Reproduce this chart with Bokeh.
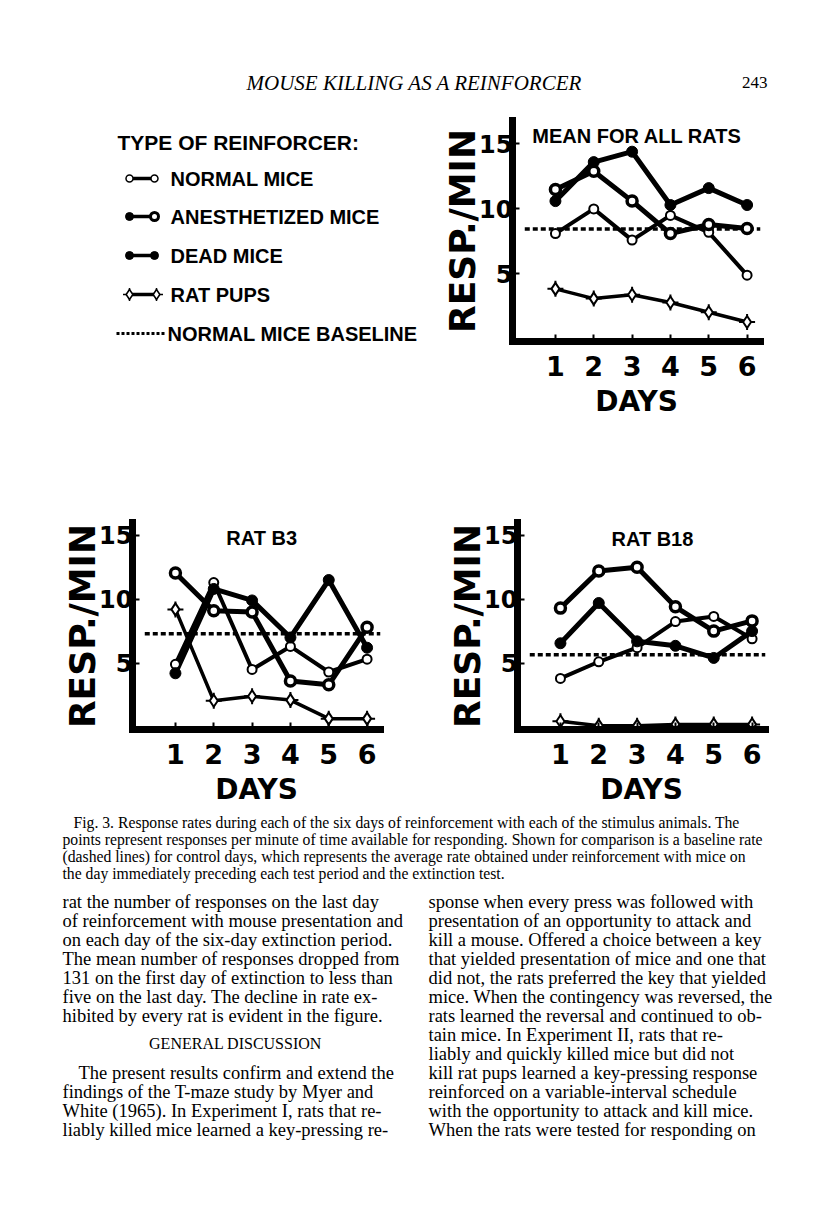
from bokeh.plotting import figure
from bokeh.models import Range1d, FixedTicker, Label
from bokeh.layouts import column, row
from bokeh.embed import file_html
from bokeh.resources import INLINE
from bokeh.core.properties import value

# ---------------- data ----------------
DAYS = [1, 2, 3, 4, 5, 6]
Y_TICKS = [5, 10, 15]

MEAN_NORMAL = [8.1, 10.0, 7.6, 9.5, 8.2, 4.9]
MEAN_ANESTH = [11.5, 12.9, 10.6, 8.1, 8.8, 8.5]
MEAN_DEAD = [10.6, 13.6, 14.4, 10.3, 11.6, 10.3]
MEAN_PUPS = [3.85, 3.1, 3.4, 2.8, 2.05, 1.3]
MEAN_BASELINE = 8.45

B3_NORMAL = [4.9, 11.3, 4.5, 6.3, 4.3, 5.3]
B3_ANESTH = [12.05, 9.1, 9.0, 3.6, 3.3, 7.8]
B3_DEAD = [4.2, 10.8, 9.9, 7.0, 11.5, 6.2]
B3_PUPS = [9.2, 2.05, 2.4, 2.1, 0.65, 0.65]
B3_BASELINE = 7.3

B18_NORMAL = [3.8, 5.1, 6.2, 8.25, 8.65, 6.9]
B18_ANESTH = [9.3, 12.2, 12.5, 9.4, 7.5, 8.3]
B18_DEAD = [6.55, 9.7, 6.7, 6.35, 5.4, 7.5]
B18_PUPS = [0.45, 0.1, 0.1, 0.2, 0.2, 0.2]
B18_BASELINE = 5.65

LEGEND_TITLE = "TYPE OF REINFORCER:"
LEGEND_ITEMS = ["NORMAL MICE", "ANESTHETIZED MICE", "DEAD MICE", "RAT PUPS",
                "NORMAL MICE BASELINE"]

RUNNING_HEAD = "MOUSE KILLING AS A REINFORCER"
PAGE_NO = "243"

CAPTION = [
    "Fig. 3. Response rates during each of the six days of reinforcement with each of the stimulus animals. The",
    "points represent responses per minute of time available for responding. Shown for comparison is a baseline rate",
    "(dashed lines) for control days, which represents the average rate obtained under reinforcement with mice on",
    "the day immediately preceding each test period and the extinction test.",
]
LEFT_COL_A = [
    "rat the number of responses on the last day",
    "of reinforcement with mouse presentation and",
    "on each day of the six-day extinction period.",
    "The mean number of responses dropped from",
    "131 on the first day of extinction to less than",
    "five on the last day. The decline in rate ex-",
    "hibited by every rat is evident in the figure.",
]
HEADING = "GENERAL DISCUSSION"
LEFT_COL_B = [
    "The present results confirm and extend the",
    "findings of the T-maze study by Myer and",
    "White (1965). In Experiment I, rats that re-",
    "liably killed mice learned a key-pressing re-",
]
RIGHT_COL = [
    "sponse when every press was followed with",
    "presentation of an opportunity to attack and",
    "kill a mouse. Offered a choice between a key",
    "that yielded presentation of mice and one that",
    "did not, the rats preferred the key that yielded",
    "mice. When the contingency was reversed, the",
    "rats learned the reversal and continued to ob-",
    "tain mice. In Experiment II, rats that re-",
    "liably and quickly killed mice but did not",
    "kill rat pups learned a key-pressing response",
    "reinforced on a variable-interval schedule",
    "with the opportunity to attack and kill mice.",
    "When the rats were tested for responding on",
]

# ---------------- styles ----------------
SANS = "DejaVu Sans"
LETTER = "Liberation Sans"
SERIF = "Liberation Serif"
X_RANGE = (-0.12, 6.35)
Y_BOTTOM = -0.2


def blank(width, height, x0, x1, y0, y1):
    p = figure(width=width, height=height, x_range=Range1d(x0, x1), y_range=Range1d(y1, y0),
               x_axis_type=None, y_axis_type=None, output_backend="svg",
               toolbar_location=None, min_border=0, title=None)
    p.frame_align = False
    p.grid.visible = False
    p.outline_line_color = None
    return p


def draw_markers(p, xs, normal, anesth, dead, pups):
    p.scatter(xs, normal, marker="circle", size=9, fill_color="white",
              line_color="black", line_width=2)
    p.scatter(xs, anesth, marker="circle", size=10, fill_color="white",
              line_color="black", line_width=3.5)
    p.scatter(xs, dead, marker="circle", size=11, fill_color="black",
              line_color="black")
    p.scatter(xs, pups, marker="cross", size=16, line_color="black", line_width=2)
    p.scatter(xs, pups, marker="diamond", size=12, fill_color="white",
              line_color="black", line_width=2)


def chart(title, title_x, title_y, y_top, normal, anesth, dead, pups, baseline,
          width, height, bl, br, bt, bb):
    p = figure(width=width, height=height, x_range=Range1d(*X_RANGE),
               y_range=Range1d(Y_BOTTOM, y_top),
               output_backend="svg", toolbar_location=None, title=None,
               min_border_left=bl, min_border_right=br, min_border_top=bt, min_border_bottom=bb)
    p.frame_align = False
    p.grid.visible = False
    p.outline_line_color = None

    p.segment(x0=[0.2], y0=[baseline], x1=[6.35], y1=[baseline], line_color="black",
              line_width=3.5, line_dash="5 3")
    p.line(DAYS, normal, line_color="black", line_width=4)
    p.line(DAYS, anesth, line_color="black", line_width=5)
    p.line(DAYS, dead, line_color="black", line_width=5)
    p.line(DAYS, pups, line_color="black", line_width=3.5)
    draw_markers(p, DAYS, normal, anesth, dead, pups)

    p.add_layout(Label(x=title_x, y=title_y, text=title, text_font=LETTER,
                       text_font_style="bold", text_font_size="20px", text_color="black",
                       text_align="center", text_baseline="middle"))

    p.xaxis.ticker = FixedTicker(ticks=DAYS)
    p.yaxis.ticker = FixedTicker(ticks=Y_TICKS)
    for ax in p.axis:
        ax.axis_line_width = 7
        ax.axis_line_cap = "square"
        ax.axis_line_color = "black"
        ax.major_tick_in = 7
        ax.major_tick_out = 0
        ax.major_tick_line_width = 2
        ax.minor_tick_line_color = None
        ax.major_label_text_font = SANS
        ax.major_label_text_font_style = "bold"
        ax.major_label_text_color = "black"
        ax.axis_label_text_font = SANS
        ax.axis_label_text_font_style = "bold"
        ax.axis_label_text_color = "black"
    p.xaxis.axis_label = "DAYS"
    p.xaxis.axis_label_text_font_size = "28px"
    p.xaxis.major_label_text_font_size = "27px"
    p.xaxis.major_label_standoff = 14
    p.xaxis.axis_label_standoff = 6
    p.yaxis.axis_label = "RESP./MIN"
    p.yaxis.axis_label_text_font_size = "36px"
    p.yaxis.major_label_text_font_size = "24px"
    p.yaxis.major_label_standoff = 0
    p.yaxis.axis_label_standoff = -7
    return p


# ---------------- header ----------------
head = blank(816, 105, 0, 816, 0, 105)
head.text(x=[414], y=[82], text=[RUNNING_HEAD], text_font=value(SERIF),
          text_font_style="italic", text_font_size="21px", text_align="center",
          text_baseline="middle")
head.text(x=[767], y=[82], text=[PAGE_NO], text_font=value(SERIF),
          text_font_size="17px", text_align="right", text_baseline="middle")

# ---------------- legend ----------------
leg = blank(428, 335, 0, 428, 105, 440)
LEG_Y = [178, 216, 255, 294, 333]
leg.text(x=[117], y=[142], text=[LEGEND_TITLE], text_font=value(LETTER),
         text_font_style="bold", text_font_size="21px", text_baseline="middle")
leg.text(x=[170, 170, 170, 170, 167], y=LEG_Y, text=LEGEND_ITEMS, text_font=value(LETTER),
         text_font_style="bold", text_font_size="20px", text_baseline="middle")
leg.segment(x0=[129] * 4, y0=LEG_Y[:4], x1=[154] * 4, y1=LEG_Y[:4], line_color="black",
            line_width=3.5)
leg.segment(x0=[116], y0=[LEG_Y[4]], x1=[166], y1=[LEG_Y[4]], line_color="black",
            line_width=3, line_dash="3 2")
leg.scatter([129, 154], [LEG_Y[0]] * 2, marker="circle", size=7, fill_color="white",
            line_color="black", line_width=1.5)
leg.scatter([129], [LEG_Y[1]], marker="circle", size=8, fill_color="black", line_color="black")
leg.scatter([154], [LEG_Y[1]], marker="circle", size=8, fill_color="white",
            line_color="black", line_width=3)
leg.scatter([129, 154], [LEG_Y[2]] * 2, marker="circle", size=8, fill_color="black",
            line_color="black")
leg.scatter([129, 156], [LEG_Y[3]] * 2, marker="cross", size=13, line_color="black",
            line_width=1.5)
leg.scatter([129, 156], [LEG_Y[3]] * 2, marker="diamond", size=10, fill_color="white",
            line_color="black", line_width=1.5)

# ---------------- charts ----------------
mean = chart("MEAN FOR ALL RATS", 3.13, 15.6, 16.8, MEAN_NORMAL, MEAN_ANESTH, MEAN_DEAD,
             MEAN_PUPS, MEAN_BASELINE, 388, 335, 84, 56, 15, 99)
b3 = chart("RAT B3", 3.25, 14.8, 16.0, B3_NORMAL, B3_ANESTH, B3_DEAD, B3_PUPS, B3_BASELINE,
           408, 368, 132, 28, 82, 76)
b18 = chart("RAT B18", 3.4, 14.7, 16.0, B18_NORMAL, B18_ANESTH, B18_DEAD, B18_PUPS,
            B18_BASELINE, 408, 368, 109, 51, 82, 76)

# ---------------- caption and body text ----------------
txt = blank(816, 399, 0, 816, 808, 1207)
cap_y = [822 + 17 * i for i in range(len(CAPTION))]
txt.text(x=[73] + [62] * (len(CAPTION) - 1), y=cap_y, text=CAPTION, text_font=value(SERIF),
         text_font_size="15.7px", text_baseline="middle")
left_a_y = [901 + 19 * i for i in range(len(LEFT_COL_A))]
txt.text(x=[62] * len(LEFT_COL_A), y=left_a_y, text=LEFT_COL_A, text_font=value(SERIF),
         text_font_size="18.5px", text_baseline="middle")
txt.text(x=[235], y=[1043], text=[HEADING], text_font=value(SERIF),
         text_font_size="16px", text_align="center", text_baseline="middle")
left_b_y = [1072 + 19 * i for i in range(len(LEFT_COL_B))]
txt.text(x=[78] + [62] * (len(LEFT_COL_B) - 1), y=left_b_y, text=LEFT_COL_B,
         text_font=value(SERIF), text_font_size="18.5px", text_baseline="middle")
right_y = [901 + 19 * i for i in range(len(RIGHT_COL))]
txt.text(x=[428] * len(RIGHT_COL), y=right_y, text=RIGHT_COL, text_font=value(SERIF),
         text_font_size="18.5px", text_baseline="middle")

layout = column(head, row(leg, mean), row(b3, b18), txt)
open("out.html", "w").write(file_html(layout, INLINE))
